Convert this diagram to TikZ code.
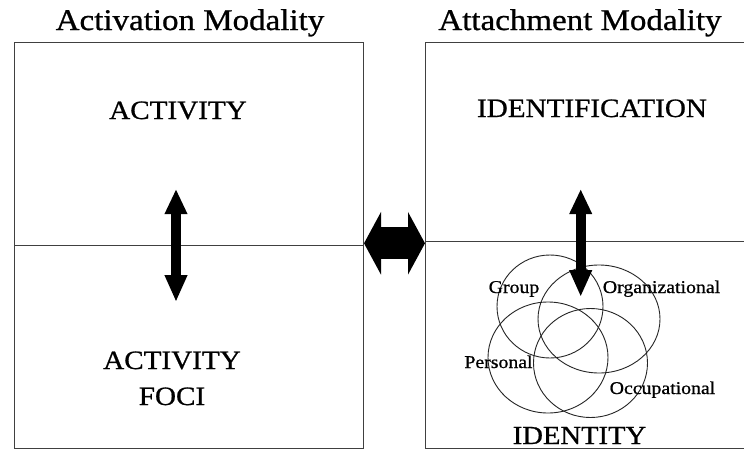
\documentclass[tikz,border=0pt]{standalone}
\usepackage{fontspec}
\setmainfont{Liberation Serif}[FakeStretch=1.1,FakeBold=0.8]
\usetikzlibrary{arrows.meta,shapes.geometric}
\begin{document}
\begin{tikzpicture}[x=1pt,y=-1pt,
  frame/.style={draw=black!75, line width=1pt},
  area/.style={rectangle, inner sep=0pt, anchor=north west},
  title/.style={font=\fontsize{30}{32}\selectfont, anchor=base, inner sep=0pt},
  big/.style={font=\fontsize{26.5}{36}\selectfont, anchor=base, inner sep=0pt, align=center},
  small/.style={font=\fontsize{18}{20}\selectfont, anchor=base, inner sep=0pt},
  venn/.style={draw=black!85, line width=0.9pt, ellipse, inner sep=0pt},
  vbi/.style={line width=10pt, {Triangle[length=25pt,width=21pt]}-{Triangle[length=27pt,width=21pt]}},
  hbi/.style={line width=32pt, {Triangle[length=17pt,width=62pt]}-{Triangle[length=17pt,width=62pt]}}
]
\useasboundingbox[fill=white] (0,0) rectangle (744,450);

% titles
\node[title] (t1) at (190,30) {Activation Modality};
\node[title] (t2) at (580,30) {Attachment Modality};

% left box (two halves)
\node[area, frame, minimum width=349pt, minimum height=203pt] (acttop) at (14,42) {};
\node[area, frame, minimum width=349pt, minimum height=203pt] (actbot) at (14,245) {};

% right box (open to the right)
\node[area, minimum width=319pt, minimum height=199pt] (idtop) at (425,42) {};
\node[area, minimum width=319pt, minimum height=207pt] (idbot) at (425,241) {};
\draw[frame] (idtop.north east) -- (idtop.north west) -- (idbot.south west) -- (idbot.south east);
\draw[frame] (idbot.north west) -- (idbot.north east);

% texts
\node[big] (act) at (178,119) {ACTIVITY};
\node[big] (foci) at (172,405) {ACTIVITY\\FOCI};
\node[big] (ident) at (592,117) {IDENTIFICATION};

% Venn of identities
\node[venn, minimum width=106pt, minimum height=103pt] (grp) at (550,306.5) {};
\node[venn, minimum width=122pt, minimum height=108pt] (org) at (599,319) {};
\node[venn, minimum width=120pt, minimum height=111pt] (per) at (548,357.5) {};
\node[venn, minimum width=114pt, minimum height=109pt] (occ) at (590.5,363) {};

\node[small] (lgrp) at (514,293) {Group};
\node[small] (lorg) at (661.5,293) {Organizational};
\node[small] (lper) at (498.5,368) {Personal};
\node[small] (locc) at (662.5,394) {Occupational};
\node[big, font=\fontsize{26}{30}\selectfont] (idty) at (579.5,444) {IDENTITY};

% arrows
\coordinate (la1) at (176,189);
\coordinate (la2) at (176,302);
\draw[vbi] (la1) -- (la2);
\coordinate (ra1) at (580.7,189);
\coordinate (ra2) at (580.7,297);
\draw[vbi] (ra1) -- (ra2);
\draw[hbi] (acttop.south east |- 0,243.3) -- (idtop.south west |- 0,243.3);
\end{tikzpicture}
\end{document}
